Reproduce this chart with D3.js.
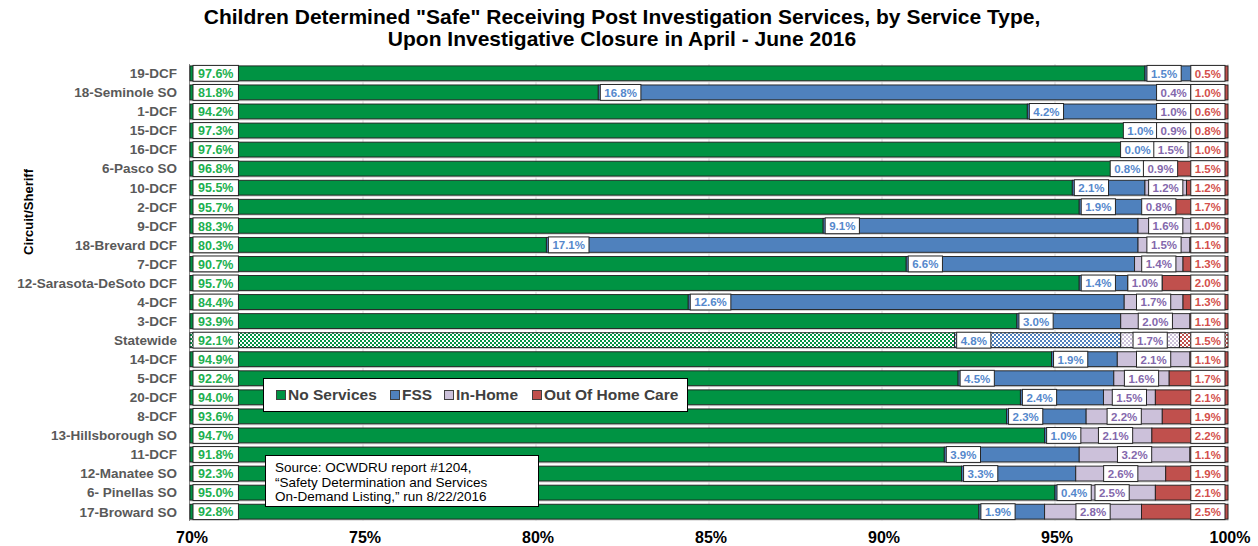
<!DOCTYPE html>
<html><head><meta charset="utf-8">
<script src="https://cdn.jsdelivr.net/npm/d3@7"></script>
<style>body{margin:0;background:#fff}svg{display:block}</style>
</head><body><svg id="c" width="1258" height="546"></svg>
<script>
const categories = ["19-DCF","18-Seminole SO","1-DCF","15-DCF","16-DCF","6-Pasco SO","10-DCF","2-DCF","9-DCF","18-Brevard DCF","7-DCF","12-Sarasota-DeSoto DCF","4-DCF","3-DCF","Statewide","14-DCF","5-DCF","20-DCF","8-DCF","13-Hillsborough SO","11-DCF","12-Manatee SO","6- Pinellas SO","17-Broward SO"];
const noServices = [97.6,81.8,94.2,97.3,97.6,96.8,95.5,95.7,88.3,80.3,90.7,95.7,84.4,93.9,92.1,94.9,92.2,94.0,93.6,94.7,91.8,92.3,95.0,92.8];
const fss        = [1.5,16.8,4.2,1.0,0.0,0.8,2.1,1.9,9.1,17.1,6.6,1.4,12.6,3.0,4.8,1.9,4.5,2.4,2.3,1.0,3.9,3.3,0.4,1.9];
const inHome     = [0.4,0.4,1.0,0.9,1.5,0.9,1.2,0.8,1.6,1.5,1.4,1.0,1.7,2.0,1.7,2.1,1.6,1.5,2.2,2.1,3.2,2.6,2.5,2.8];
const outOfHome  = [0.5,1.0,0.6,0.8,1.0,1.5,1.2,1.7,1.0,1.1,1.3,2.0,1.3,1.1,1.5,1.1,1.7,2.1,1.9,2.2,1.1,1.9,2.1,2.5];
const seriesNames = ["No Services","FSS","In-Home","Out Of Home Care"];
const xTicks = [70,75,80,85,90,95,100];
const hiddenLabels = [["19-DCF","In-Home"]];
const patternedRow = "Statewide";
const titleLines = ["Children Determined \"Safe\" Receiving Post Investigation Services, by Service Type,","Upon Investigative Closure in April  - June 2016"];
const yTitle = "Circuit/Sheriff";
const sourceLines = ["Source: OCWDRU report #1204,","\u201CSafety Determination and Services","On-Demand Listing,\u201D run 8/22/2016"];

const fills = ["#009343","#4f81bd","#ccc1da","#c0504d"];
const textColors = ["#20b04e","#5588cc","#8468ac","#d4504c"];
const seriesValues = [noServices, fss, inHome, outOfHome];
const FONT = "'Liberation Sans', Arial, sans-serif";

const svg = d3.select("#c");
const x = d3.scaleLinear().domain([70,100]).range([190,1228]).clamp(true);
const y = d3.scaleBand().domain(categories).range([64,521]).paddingInner(0.22).paddingOuter(0.1);
const bw = y.bandwidth();

// patterns
const defs = svg.append("defs");
fills.forEach((f,i)=>{
  const p = defs.append("pattern").attr("id","pat"+i).attr("width",4).attr("height",4).attr("patternUnits","userSpaceOnUse");
  p.append("rect").attr("width",4).attr("height",4).attr("fill","#fff");
  p.append("rect").attr("width",2).attr("height",2).attr("fill",f);
  p.append("rect").attr("x",2).attr("y",2).attr("width",2).attr("height",2).attr("fill",f);
});

// title
svg.append("g").selectAll("text").data(titleLines).join("text")
  .attr("x",622).attr("y",(d,i)=>24+i*22).attr("text-anchor","middle")
  .attr("font-family",FONT).attr("font-weight","bold").attr("font-size","21px").attr("fill","#000").text(d=>d);

// gridlines
svg.append("g").selectAll("line").data(xTicks.slice(1)).join("line")
  .attr("x1",d=>x(d)).attr("x2",d=>x(d)).attr("y1",64).attr("y2",521)
  .attr("stroke","#d9d9d9").attr("stroke-width",1);
svg.append("line").attr("x1",x(70)-0.5).attr("x2",x(70)-0.5).attr("y1",64).attr("y2",521).attr("stroke","#868686");

// x tick labels
svg.append("g").selectAll("text").data(xTicks).join("text")
  .attr("x",d=>x(d)+2).attr("y",543).attr("text-anchor","middle")
  .attr("font-family",FONT).attr("font-weight","bold").attr("font-size","16px").attr("fill","#000").text(d=>d+"%");

// y labels
svg.append("g").selectAll("text").data(categories).join("text")
  .attr("x",177).attr("y",d=>y(d)+bw/2).attr("dy","0.36em").attr("text-anchor","end")
  .attr("font-family",FONT).attr("font-weight","bold").attr("font-size","13.5px").attr("fill","#595959").text(d=>d);

svg.append("text").attr("transform","translate(33,212) rotate(-90)").attr("text-anchor","middle")
  .attr("font-family",FONT).attr("font-weight","bold").attr("font-size","13px").attr("fill","#000").text(yTitle);

// rows
const rows = categories.map((c,i)=>{
  let acc = 0;
  const segs = seriesValues.map((vals,k)=>{
    const s = {k, v:vals[i], x0:acc, x1:acc+vals[i]}; acc += vals[i]; return s;
  });
  return {c, segs, patterned: c===patternedRow};
});

const barG = svg.append("g");
const labG = svg.append("g");
rows.forEach(r=>{
  const y0 = y(r.c);
  barG.append("rect").attr("x",x(70)).attr("y",y0+bw).attr("width",x(100)-x(70)).attr("height",1.5).attr("fill","#cfcfcf");
  barG.selectAll(null).data(r.segs).join("rect")
    .attr("x",d=>x(Math.max(70,d.x0))).attr("y",y0)
    .attr("width",d=>Math.max(0,x(d.x1)-x(Math.max(70,d.x0))))
    .attr("height",bw)
    .attr("fill",d=> r.patterned ? `url(#pat${d.k})` : fills[d.k])
    .attr("stroke","#1e1e1e").attr("stroke-width",0.9);

  const boxes = [];
  r.segs.forEach(d=>{
    const hidden = hiddenLabels.some(h=>h[0]===r.c && h[1]===seriesNames[d.k]);
    const fs = d.k===0 ? 12.5 : 11.5;
    const g = labG.append("g");
    const rect = g.append("rect");
    const t = g.append("text").attr("font-family",FONT).attr("font-weight","bold").attr("font-size",fs+"px")
      .attr("fill",textColors[d.k]).attr("text-anchor","middle").attr("dy","0.36em").text(d.v.toFixed(1)+"%");
    const tw = t.node().getComputedTextLength();
    const pad = d.k===0 ? 5 : 4;
    boxes[d.k] = {g, rect, t, w: tw+2*pad, hidden, d};
  });
  const b0 = boxes[0], b1 = boxes[1], b2 = boxes[2], b3 = boxes[3];
  b0.left = x(70)+3;
  b3.left = x(100)-3-b3.w;
  const c2 = (x(b2.d.x0)+x(b2.d.x1))/2;
  b2.left = Math.min(c2-b2.w/2, b3.left-b2.w);
  b1.left = x(b1.d.x0)+2;
  if(!b2.hidden) b1.left = Math.min(b1.left, b2.left+1-b1.w);
  boxes.forEach(b=>{
    if(b.hidden){ b.g.remove(); return; }
    b.rect.attr("x",b.left).attr("y",y0-0.5).attr("width",b.w).attr("height",bw+1)
      .attr("fill","#fff").attr("stroke","#262626").attr("stroke-width",1);
    b.t.attr("x",b.left+b.w/2).attr("y",y0+bw/2+0.3);
  });
});

// legend
const lg = svg.append("g");
lg.append("rect").attr("x",263.5).attr("y",378.5).attr("width",424).attr("height",33).attr("fill","#fff").attr("stroke","#000");
const legX = [276,390,444,532];
seriesNames.forEach((n,i)=>{
  lg.append("rect").attr("x",legX[i]+0.5).attr("y",390.5).attr("width",9).attr("height",9).attr("fill",fills[i]).attr("stroke","#404040");
  lg.append("text").attr("x",legX[i]+12).attr("y",400).attr("font-family",FONT).attr("font-weight","bold")
    .attr("font-size","15.5px").attr("fill","#404040").text(n);
});

// source box
const sg = svg.append("g");
sg.append("rect").attr("x",265.5).attr("y",455.5).attr("width",273).attr("height",51).attr("fill","#fff").attr("stroke","#000");
sg.selectAll("text").data(sourceLines).join("text").attr("x",275).attr("y",(d,i)=>472+i*14.5)
  .attr("font-family",FONT).attr("font-size","13.5px").attr("fill","#000").text(d=>d);
</script>
</body></html>
